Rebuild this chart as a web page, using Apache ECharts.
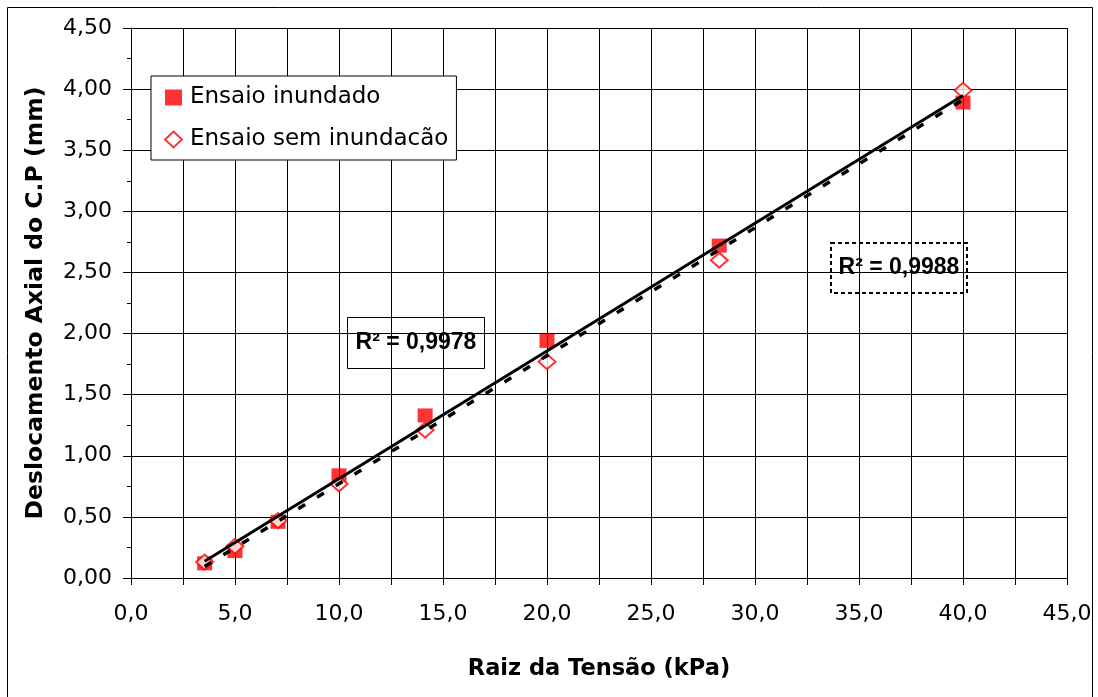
<!DOCTYPE html>
<html>
<head>
<meta charset="utf-8">
<script src="https://cdn.jsdelivr.net/npm/echarts@6/dist/echarts.min.js"></script>
<style>
  html, body { margin: 0; padding: 0; background: #fff; }
  #chart { width: 1098px; height: 697px; }
</style>
</head>
<body>
<div id="chart"></div>
<script>
// Raiz da tensão (kPa) for each load stage
const xRaiz = [3.54, 5.0, 7.07, 10.0, 14.14, 20.0, 28.28, 40.0];
// Axial displacement (mm) of the test specimen
const yInundado = [0.12, 0.22, 0.46, 0.84, 1.33, 1.94, 2.72, 3.89];
const ySemInundacao = [0.13, 0.26, 0.47, 0.77, 1.21, 1.77, 2.60, 3.99];
// Series names and R² labels of the linear trend lines
const seriesNames = ['Ensaio inundado', 'Ensaio sem inundacão'];
const r2Labels = ['R² = 0,9978', 'R² = 0,9988'];

const WIDE = '"DejaVu Sans", Verdana, sans-serif';
const ARIAL = '"Liberation Sans", Arial, sans-serif';

// Least-squares straight line through a data set, sampled at its first and last x
function linearFit(xs, ys) {
  const n = xs.length;
  const mx = xs.reduce((a, b) => a + b, 0) / n;
  const my = ys.reduce((a, b) => a + b, 0) / n;
  let sxy = 0, sxx = 0;
  for (let i = 0; i < n; i++) {
    sxy += (xs[i] - mx) * (ys[i] - my);
    sxx += (xs[i] - mx) * (xs[i] - mx);
  }
  const b = sxy / sxx, a = my - b * mx;
  const x0 = Math.min(...xs), x1 = Math.max(...xs);
  return [[x0, a + b * x0], [x1, a + b * x1]];
}

const pairs = (xs, ys) => xs.map((x, i) => [x, ys[i]]);

const chart = echarts.init(document.getElementById('chart'), null, { renderer: 'canvas' });

const option = {
  backgroundColor: '#ffffff',
  animation: false,
  textStyle: { fontFamily: WIDE },
  grid: { left: 131, right: 31, top: 28, bottom: 119, containLabel: false },
  legend: {
    orient: 'vertical',
    left: 151,
    top: 76,
    padding: [9, 8, 8, 13],
    itemGap: 17,
    itemWidth: 17,
    itemHeight: 16,
    backgroundColor: '#ffffff',
    borderColor: '#000000',
    borderWidth: 1,
    borderRadius: 0,
    textStyle: { fontFamily: WIDE, fontSize: 23, lineHeight: 25, color: '#000000', padding: [0, 0, 0, 3] },
    data: [
      { name: seriesNames[0], icon: 'rect' },
      { name: seriesNames[1], icon: 'diamond' }
    ]
  },
  xAxis: {
    type: 'value',
    min: 0,
    max: 45,
    interval: 2.5,
    name: 'Raiz da Tensão (kPa)',
    nameLocation: 'middle',
    nameGap: 80,
    nameTextStyle: { fontFamily: WIDE, fontSize: 22.5, fontWeight: 'bold', color: '#000' },
    axisLine: { show: true, onZero: false, lineStyle: { color: '#000', width: 1 } },
    axisTick: { show: true, inside: false, length: 7, lineStyle: { color: '#000', width: 1 } },
    axisLabel: {
      fontFamily: WIDE, fontSize: 22, color: '#000', margin: 25,
      showMinLabel: true, showMaxLabel: true,
      formatter: v => (Math.abs(v / 5 - Math.round(v / 5)) < 1e-6 ? v.toFixed(1).replace('.', ',') : '')
    },
    splitLine: { show: true, lineStyle: { color: '#000', width: 1 } }
  },
  yAxis: {
    type: 'value',
    min: 0,
    max: 4.5,
    interval: 0.5,
    name: 'Deslocamento Axial do C.P (mm)',
    nameLocation: 'middle',
    nameGap: 83,
    nameRotate: 90,
    nameTextStyle: { fontFamily: WIDE, fontSize: 23.5, fontWeight: 'bold', color: '#000' },
    axisLine: { show: true, onZero: false, lineStyle: { color: '#000', width: 1 } },
    axisTick: { show: true, inside: false, length: 8, lineStyle: { color: '#000', width: 1 } },
    minorTick: { show: true, splitNumber: 2, length: 4, lineStyle: { color: '#000', width: 1 } },
    axisLabel: {
      fontFamily: WIDE, fontSize: 22, color: '#000', margin: 19,
      formatter: v => v.toFixed(2).replace('.', ',')
    },
    splitLine: { show: true, lineStyle: { color: '#000', width: 1 } }
  },
  series: [
    {
      name: seriesNames[0],
      type: 'scatter',
      symbol: 'rect',
      symbolSize: [15, 14],
      z: 2,
      itemStyle: { color: '#ff0000' },
      data: pairs(xRaiz, yInundado)
    },
    {
      name: seriesNames[1],
      type: 'scatter',
      symbol: 'diamond',
      symbolSize: [17, 15],
      z: 3,
      itemStyle: { color: '#ffffff', borderColor: '#ff0000', borderWidth: 2 },
      data: pairs(xRaiz, ySemInundacao)
    },
    {
      name: 'Linear (' + seriesNames[1] + ')',
      type: 'line',
      showSymbol: false,
      symbol: 'none',
      z: 4,
      silent: true,
      lineStyle: { color: '#000', width: 3.5, type: [8, 14] },
      data: linearFit(xRaiz, ySemInundacao)
    },
    {
      name: 'Linear (' + seriesNames[0] + ')',
      type: 'line',
      showSymbol: false,
      symbol: 'none',
      z: 5,
      silent: true,
      lineStyle: { color: '#000', width: 3 },
      data: linearFit(xRaiz, yInundado)
    }
  ],
  graphic: [
    {
      // outer chart frame
      type: 'rect',
      shape: { x: 7.5, y: 7.5, width: 1085, height: 700 },
      style: { fill: 'none', stroke: '#000', lineWidth: 1 },
      z: 0,
      silent: true
    },
    {
      type: 'group',
      left: 347,
      top: 317,
      z: 100,
      children: [
        { type: 'rect', shape: { x: 0.5, y: 0.5, width: 137, height: 51 },
          style: { fill: '#ffffff', stroke: '#000', lineWidth: 1 } },
        { type: 'text', x: 69, y: 26,
          style: { text: r2Labels[0], fontFamily: ARIAL, fontSize: 23, fontWeight: 'bold',
                   fill: '#000', align: 'center', verticalAlign: 'middle' } }
      ]
    },
    {
      type: 'group',
      left: 830,
      top: 242,
      z: 100,
      children: [
        { type: 'rect', shape: { x: 1, y: 1, width: 136, height: 50 },
          style: { fill: '#ffffff', stroke: '#000', lineWidth: 2, lineDash: [4, 3] } },
        { type: 'text', x: 69, y: 26,
          style: { text: r2Labels[1], fontFamily: ARIAL, fontSize: 23, fontWeight: 'bold',
                   fill: '#000', align: 'center', verticalAlign: 'middle' } }
      ]
    }
  ]
};

chart.setOption(option);
</script>
</body>
</html>
